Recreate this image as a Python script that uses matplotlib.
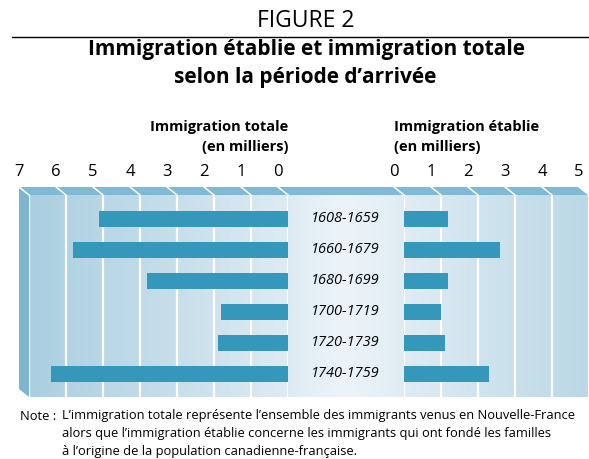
import matplotlib.pyplot as plt
import matplotlib.transforms as mtransforms
from matplotlib.patches import Polygon
import numpy as np

plt.rcParams['font.family'] = ['Open Sans', 'DejaVu Sans']

periodes = ["1608-1659", "1660-1679", "1680-1699", "1700-1719", "1720-1739", "1740-1759"]
immigration_totale = [5.1, 5.8, 3.8, 1.8, 1.9, 6.4]
immigration_etablie = [1.2, 2.6, 1.2, 1.0, 1.1, 2.3]
ticks_totale = [0, 1, 2, 3, 4, 5, 6, 7]
ticks_etablie = [0, 1, 2, 3, 4, 5]

W, H = 589, 459
fig = plt.figure(figsize=(W / 100, H / 100), dpi=100)

bar_color = '#3598ba'
face_top = '#80b9d3'


def fx(px):
    return px / W


def fy(py):
    return 1 - py / H


# fond (panneau en 3D) en pixels
bg = fig.add_axes([0, 0, 1, 1])
bg.set_xlim(0, W)
bg.set_ylim(H, 0)
bg.axis('off')

stops_x = [29, 288, 345, 404, 589]
stops_c = np.array([(170, 207, 224), (222, 235, 243), (237, 244, 249),
                    (224, 236, 244), (186, 216, 229)]) / 255
xs = np.linspace(29, 589, 400)
grad = np.stack([np.interp(xs, stops_x, stops_c[:, k]) for k in range(3)], axis=-1)
bg.imshow(grad[np.newaxis, :, :], extent=(29, 589, 397, 195), aspect='auto', zorder=1)
bg.add_patch(Polygon([(19, 187), (580, 187), (589, 195), (29, 195)],
                     closed=True, color=face_top, lw=0, zorder=2))
bg.add_patch(Polygon([(19, 187), (29, 195), (29, 397), (19, 389)],
                     closed=True, color='#7db5cf', lw=0, zorder=2))

# titre
fig.text(fx(306), fy(21), "FIGURE 2", ha='center', va='center', fontsize=16.5)
bg.plot([12, 589], [37, 37], color='black', lw=1)
fig.text(fx(306), fy(50), "Immigration établie et immigration totale",
         ha='center', va='center', fontsize=15, fontweight='bold')
fig.text(fx(305), fy(77), "selon la période d’arrivée",
         ha='center', va='center', fontsize=15, fontweight='bold')

# axes des barres
top_px, bot_px = 195, 397
ax_h = fy(top_px) - fy(bot_px)
axL = fig.add_axes([fx(29), fy(bot_px), fx(288) - fx(29), ax_h])
axR = fig.add_axes([fx(404), fy(bot_px), fx(589) - fx(404), ax_h])

y = np.arange(len(periodes))
axL.barh(y, immigration_totale, height=0.52, color=bar_color, zorder=3)
axR.barh(y, immigration_etablie, height=0.52, color=bar_color, zorder=3)

axL.set_xlim(7, 0)
axR.set_xlim(0, 5)

slant_y = 8 / (bot_px - top_px)
for ax, ticks in [(axL, ticks_totale), (axR, ticks_etablie)]:
    ax.set_ylim(5.742, -0.774)
    ax.set_facecolor('none')
    for s in ax.spines.values():
        s.set_visible(False)
    ax.set_xticks(ticks)
    ax.set_yticks([])
    ax.tick_params(axis='x', length=0, labelbottom=False)
    ax.grid(axis='x', color='white', lw=1.6, zorder=2)
    unit_px = ax.bbox.width / len(ticks[:-1])
    shift = 10 / unit_px
    if ax is axR:
        shift = -shift
    blend = mtransforms.blended_transform_factory(ax.transData, ax.transAxes)
    for v in ticks:
        ax.plot([v + shift, v], [1 + slant_y, 1], color='white', lw=1.1,
                transform=blend, clip_on=False, zorder=4)
        ax.text(v + shift, 1 + 23 / (bot_px - top_px), str(v), transform=blend,
                ha='center', va='center', fontsize=12)

# libellés des périodes
blendL = mtransforms.blended_transform_factory(fig.transFigure, axL.transData)
for i, p in enumerate(periodes):
    axL.text(fx(345), i, p, transform=blendL, ha='center', va='center',
             fontsize=10.5, fontstyle='italic', clip_on=False)

# en-têtes
fig.text(fx(288), fy(127), "Immigration totale", ha='right', va='center',
         fontsize=10.5, fontweight='bold')
fig.text(fx(288), fy(147), "(en milliers)", ha='right', va='center',
         fontsize=10.5, fontweight='bold')
fig.text(fx(394), fy(127), "Immigration établie", ha='left', va='center',
         fontsize=10.5, fontweight='bold')
fig.text(fx(394), fy(147), "(en milliers)", ha='left', va='center',
         fontsize=10.5, fontweight='bold')

# note
fig.text(fx(20), fy(416), "Note :", ha='left', va='center', fontsize=9.3)
fig.text(fx(62), fy(416),
         "L’immigration totale représente l’ensemble des immigrants venus en Nouvelle-France",
         ha='left', va='center', fontsize=9.3)
fig.text(fx(62), fy(434),
         "alors que l’immigration établie concerne les immigrants qui ont fondé les familles",
         ha='left', va='center', fontsize=9.3)
fig.text(fx(62), fy(451), "à l’origine de la population canadienne-française.",
         ha='left', va='center', fontsize=9.3)

fig.savefig('out.png', dpi=100)
